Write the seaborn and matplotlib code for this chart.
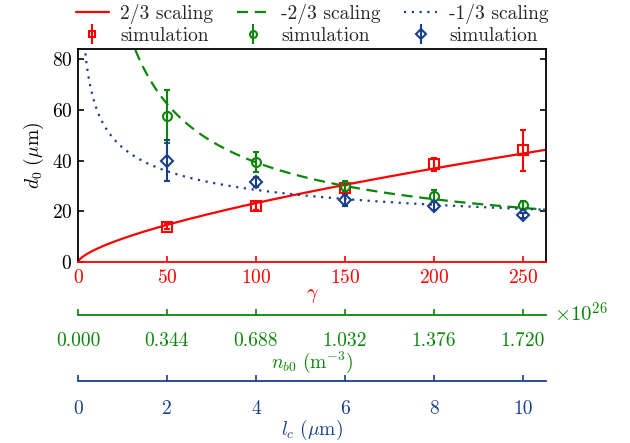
import numpy as np
import pandas as pd
import matplotlib
matplotlib.use("Agg")
import matplotlib.pyplot as plt
import seaborn as sns
from matplotlib.lines import Line2D

# ---------------- data ----------------
gamma = [50, 100, 150, 200, 250]
d_red = [14, 22, 29, 38.5, 44]
e_red = [1.0, 1.5, 1.5, 2.5, 8.0]
d_green = [57.5, 39.5, 30, 26, 22.5]
e_green = [10.5, 4.0, 2.0, 2.5, 1.5]
d_blue = [40, 31.5, 24.5, 22, 18.5]
e_blue = [8.0, 2.0, 2.5, 1.5, 1.0]

# scaling-law coefficients (d0 = k * gamma^p)
k_red, p_red = 1.078, 2 / 3
k_green, p_green = 847.0, -2 / 3
k_blue, p_blue = 132.0, -1 / 3

gamma_ticks = [0, 50, 100, 150, 200, 250]
nb0_labels = ["0.000", "0.344", "0.688", "1.032", "1.376", "1.720"]
lc_ticks = [0, 2, 4, 6, 8, 10]
lc_per_gamma = 1 / 25

RED = "#ff0000"
GREEN = "#0a860a"
BLUE = "#1a3f8a"

sns.set_theme(style="ticks")
plt.rcParams["font.family"] = "serif"
plt.rcParams["font.serif"] = ["cmr10"]
plt.rcParams["mathtext.fontset"] = "cm"
plt.rcParams["axes.formatter.use_mathtext"] = True
plt.rcParams["axes.unicode_minus"] = False
FS = 14

fig = plt.figure(figsize=(6.3, 4.43), dpi=100)
ax = fig.add_axes([78 / 630, 1 - 262 / 443, (546 - 78) / 630, (262 - 49) / 443])
ax.set_facecolor("white")

xmax = 263
g = np.linspace(0.01, xmax, 800)
curves = pd.DataFrame({
    "gamma": np.concatenate([g, g, g]),
    "d0": np.concatenate([k_red * g ** p_red, k_green * g ** p_green, k_blue * g ** p_blue]),
    "law": ["2/3 scaling"] * len(g) + ["-2/3 scaling"] * len(g) + ["-1/3 scaling"] * len(g),
})
styles = {"2/3 scaling": (RED, "-"), "-2/3 scaling": (GREEN, (0, (5, 3))), "-1/3 scaling": (BLUE, (0, (1, 2.5)))}
for law, (c, ls) in styles.items():
    sub = curves[curves["law"] == law]
    sns.lineplot(data=sub, x="gamma", y="d0", ax=ax, color=c, linestyle=ls, lw=1.6,
                 legend=False, zorder=2)

eb_kw = dict(mfc="none", mew=1.5, elinewidth=1.5, capsize=2.5, capthick=1.5, ls="none", zorder=3)
ax.errorbar(gamma, d_red, yerr=e_red, marker="s", ms=6.5, color=RED, **eb_kw)
ax.errorbar(gamma, d_green, yerr=e_green, marker="o", ms=6.5, color=GREEN, **eb_kw)
ax.errorbar(gamma, d_blue, yerr=e_blue, marker="D", ms=6, color=BLUE, **eb_kw)

ax.set_xlim(0, xmax)
ax.set_ylim(0, 84)
ax.set_xticks(gamma_ticks)
ax.set_yticks([0, 20, 40, 60, 80])
ax.set_xlabel(r"$\gamma$", color=RED, fontsize=FS, labelpad=0)
ax.set_ylabel(r"$d_0\ (\mu\mathrm{m})$", fontsize=FS, color="black", labelpad=4)
for s in ["left", "top", "right"]:
    ax.spines[s].set_color("black")
    ax.spines[s].set_linewidth(1.3)
ax.spines["bottom"].set_color(RED)
ax.spines["bottom"].set_linewidth(1.3)
ax.tick_params(axis="x", direction="in", colors=RED, length=4, width=1.2, labelsize=FS, pad=5)
ax.tick_params(axis="y", direction="in", colors="black", length=4, width=1.2, labelsize=FS,
               right=True, left=True, pad=4)

# secondary axis: n_b0
axg = ax.twiny()
axg.set_xlim(ax.get_xlim())
axg.xaxis.set_ticks_position("bottom")
axg.xaxis.set_label_position("bottom")
for s in ["top", "left", "right"]:
    axg.spines[s].set_visible(False)
axg.spines["bottom"].set_position(("outward", 38.5))
axg.spines["bottom"].set_color(GREEN)
axg.spines["bottom"].set_linewidth(1.3)
axg.set_xticks(gamma_ticks)
axg.set_xticklabels(nb0_labels)
axg.tick_params(axis="x", direction="in", colors=GREEN, length=4, width=1.2, labelsize=FS, pad=12)
axg.set_xlabel(r"$n_{b0}\ (\mathrm{m}^{-3})$", color=GREEN, fontsize=FS, labelpad=0)
fig.text(554 / 630, 1 - 314 / 443, r"$\times10^{26}$", color=GREEN, fontsize=15, va="center", ha="left")

# secondary axis: l_c
axb = ax.twiny()
axb.set_xlim(0, xmax * lc_per_gamma)
axb.xaxis.set_ticks_position("bottom")
axb.xaxis.set_label_position("bottom")
for s in ["top", "left", "right"]:
    axb.spines[s].set_visible(False)
axb.spines["bottom"].set_position(("outward", 85.5))
axb.spines["bottom"].set_color(BLUE)
axb.spines["bottom"].set_linewidth(1.3)
axb.set_xticks(lc_ticks)
axb.set_xticklabels([str(v) for v in lc_ticks])
axb.tick_params(axis="x", direction="in", colors=BLUE, length=4, width=1.2, labelsize=FS, pad=14)
axb.set_xlabel(r"$l_c\ (\mu\mathrm{m})$", color=BLUE, fontsize=FS, labelpad=0)

# legend
h_lines = [Line2D([], [], color=RED, lw=1.6, ls="-"),
           Line2D([], [], color=GREEN, lw=1.6, ls=(0, (5, 3))),
           Line2D([], [], color=BLUE, lw=1.6, ls=(0, (1, 2.5)))]
h_sim = []
for c, m in [(RED, "s"), (GREEN, "o"), (BLUE, "D")]:
    h_sim.append(ax.errorbar([], [], yerr=[], marker=m, ms=5, color=c, mfc="none", mew=1.5,
                             elinewidth=1.5, capsize=2, ls="none"))
handles = [h_lines[0], h_sim[0], h_lines[1], h_sim[1], h_lines[2], h_sim[2]]
labels = ["2/3 scaling", "simulation", "-2/3 scaling", "simulation", "-1/3 scaling", "simulation"]
ax.legend(handles, labels, ncol=3, loc="lower center", bbox_to_anchor=(0.5, 1.01),
          frameon=False, fontsize=FS, handlelength=1.7, handletextpad=0.6, columnspacing=1.2,
          labelspacing=0.15, borderaxespad=0.0, borderpad=0.1)

fig.savefig("out.png", dpi=100, facecolor="white")
